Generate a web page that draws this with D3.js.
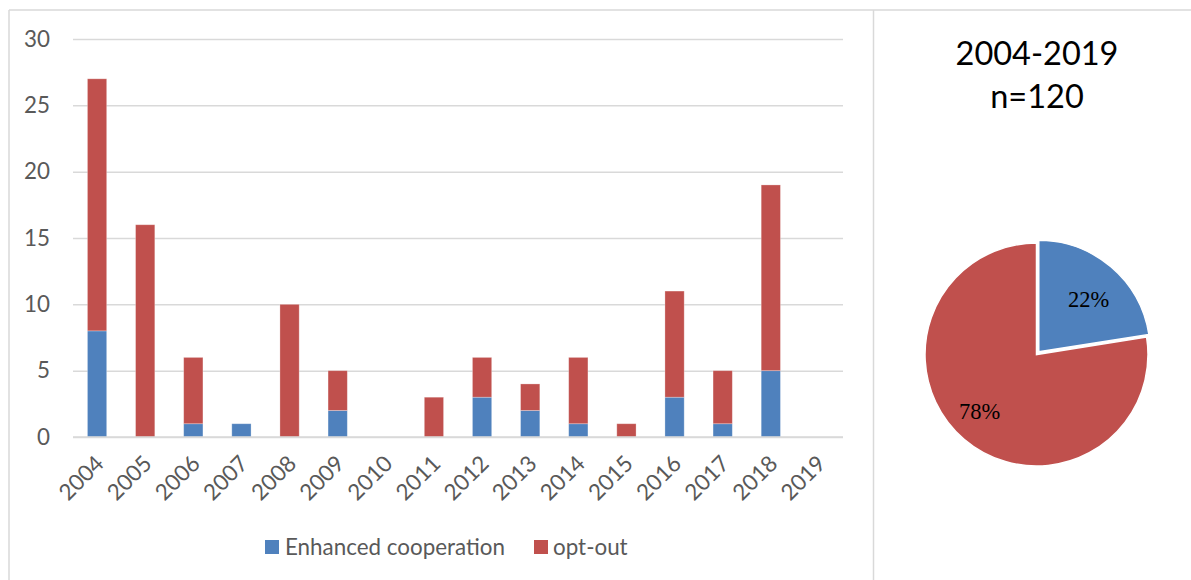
<!DOCTYPE html>
<html><head><meta charset="utf-8">
<script src="https://cdn.jsdelivr.net/npm/d3@7/dist/d3.min.js"></script>
<style>body{margin:0;background:#fff}svg{display:block}text{font-family:Lato,"Open Sans",sans-serif}</style>
</head><body><svg id="c" width="1191" height="580"></svg>
<script>
const years = ["2004","2005","2006","2007","2008","2009","2010","2011","2012","2013","2014","2015","2016","2017","2018","2019"];
const enhanced = [8,0,1,1,0,2,0,0,3,2,1,0,3,1,5,0];
const optOut   = [19,16,5,0,10,3,0,3,3,2,5,1,8,4,14,0];
const seriesNames = ["Enhanced cooperation","opt-out"];
const yTicks = [0,5,10,15,20,25,30];
const pieTitle = ["2004-2019","n=120"];
const pieLabels = ["22%","78%"];
const colors = ["#4F81BD","#C0504D"];

const svg = d3.select("#c");
const grey = "#595959";
const fs = 22.4;

// frame
svg.append("line").attr("x1",9).attr("x2",1191).attr("y1",10).attr("y2",10).attr("stroke","#d9d9d9").attr("stroke-width",1.5);
svg.append("line").attr("x1",9).attr("x2",9).attr("y1",10).attr("y2",580).attr("stroke","#d9d9d9").attr("stroke-width",1.5);
svg.append("line").attr("x1",873.5).attr("x2",873.5).attr("y1",10).attr("y2",580).attr("stroke","#d9d9d9").attr("stroke-width",1.5);

// bar chart
const x = d3.scaleBand().domain(years).range([73,843]).paddingInner(0.6).paddingOuter(0.3);
const y = d3.scaleLinear().domain([0,30]).range([437,39]);

const yAxis = svg.append("g").attr("transform","translate(73,0)")
  .call(d3.axisLeft(y).tickValues(yTicks).tickSize(-770).tickPadding(23));
yAxis.select(".domain").remove();
yAxis.selectAll(".tick line").attr("stroke","#d9d9d9").attr("stroke-width",1.5);
yAxis.selectAll(".tick text").attr("fill",grey).attr("font-size",fs).style("font-family","Lato");

const data = years.map((yr,i)=>({yr, v:[enhanced[i], optOut[i]]}));
const stack = d3.stack().keys([0,1]).value((d,k)=>d.v[k])(data);
svg.append("g").selectAll("g").data(stack).join("g").attr("fill",(d,i)=>colors[i])
  .selectAll("rect").data(d=>d.filter(s=>s[1]-s[0]>0)).join("rect")
  .attr("x",d=>x(d.data.yr)).attr("width",x.bandwidth())
  .attr("y",d=>y(d[1])).attr("height",d=>y(d[0])-y(d[1]))
  .attr("stroke","rgba(255,255,255,0.35)").attr("stroke-width",0.8);

const xAxis = svg.append("g").attr("transform","translate(0,437)")
  .call(d3.axisBottom(x).tickSize(0).tickPadding(0));
xAxis.select(".domain").attr("stroke","#d9d9d9").attr("stroke-width",1.5).attr("d","M73,0H843");
xAxis.selectAll(".tick text").attr("fill",grey).attr("font-size",fs).style("font-family","Lato")
  .attr("text-anchor","end").attr("dy",0).attr("y",0)
  .attr("transform","translate(8,28) rotate(-45)");

// legend
const leg = [[265,285],[534,553]];
seriesNames.forEach((n,i)=>{
  svg.append("rect").attr("x",leg[i][0]).attr("y",540).attr("width",14).attr("height",14).attr("fill",colors[i]);
  svg.append("text").attr("x",leg[i][1]).attr("y",555).attr("fill",grey).attr("font-size",fs).text(n);
});

// pie
const cx = 1036.5, cy = 354.5, r = 111.5;
svg.append("text").attr("x",1037).attr("y",65).attr("text-anchor","middle").attr("font-size",32.5).attr("fill","#000").text(pieTitle[0]);
svg.append("text").attr("x",1037).attr("y",108).attr("text-anchor","middle").attr("font-size",32.5).attr("fill","#000").text(pieTitle[1]);
const totals = [d3.sum(enhanced), d3.sum(optOut)];
const arcs = d3.pie().sort(null)(totals);
const arc = d3.arc().innerRadius(0).outerRadius(r);
const explode = [3.5, 0];
const pg = svg.append("g").attr("transform",`translate(${cx},${cy})`);
pg.selectAll("path").data(arcs).join("path")
  .attr("d",arc).attr("fill",(d,i)=>colors[i]).attr("stroke","#fff").attr("stroke-width",1.5)
  .attr("transform",(d,i)=>{const a=(d.startAngle+d.endAngle)/2; return `translate(${explode[i]*Math.sin(a)},${-explode[i]*Math.cos(a)})`;});
const labelPos = [[52,-48],[-57,64]];
pg.selectAll("text.pl").data(arcs).join("text").attr("class","pl")
  .attr("x",(d,i)=>labelPos[i][0]).attr("y",(d,i)=>labelPos[i][1])
  .attr("text-anchor","middle").attr("font-size",22.5).style("font-family","'Liberation Serif','DejaVu Serif',serif").attr("fill","#000")
  .text((d,i)=>pieLabels[i]);
</script></body></html>
